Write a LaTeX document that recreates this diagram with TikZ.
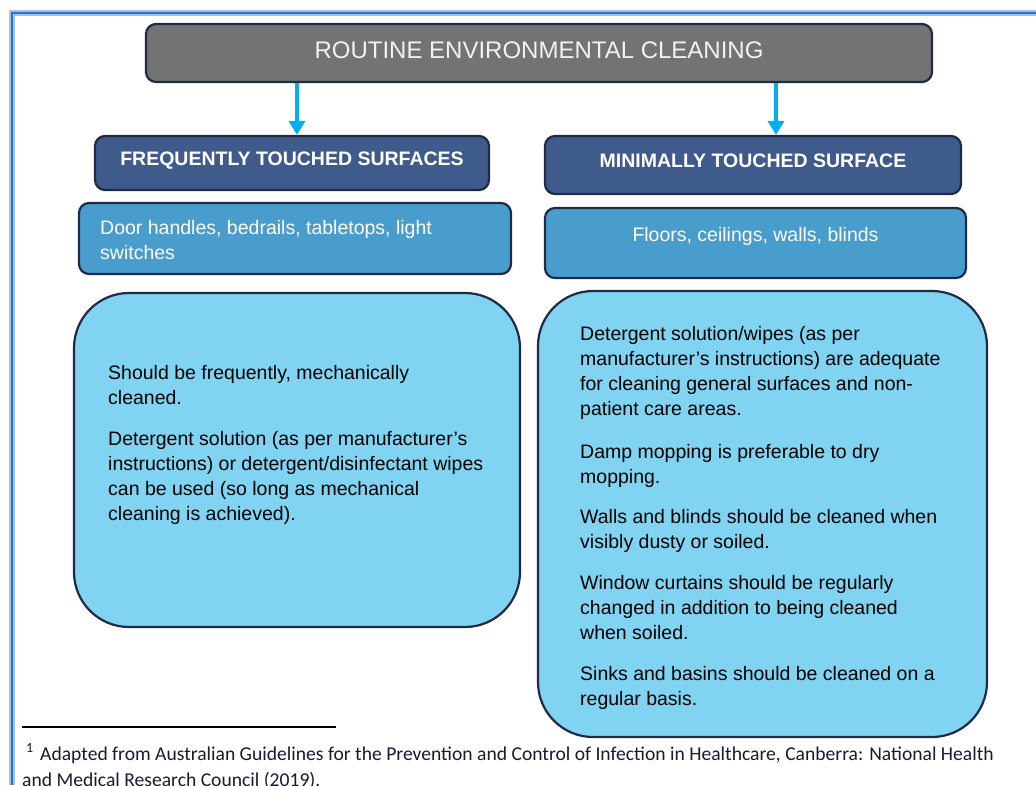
\documentclass[tikz,border=0pt]{standalone}
\usepackage{fontspec}
\setmainfont{Liberation Sans}
\newfontfamily\notefont{Carlito}
\usetikzlibrary{positioning,arrows.meta}

\definecolor{framebl}{HTML}{2E74C5}
\definecolor{framelt}{HTML}{9DC3E6}
\definecolor{navy}{HTML}{1F2B46}
\definecolor{titlegray}{HTML}{737373}
\definecolor{titletext}{HTML}{F2F2F2}
\definecolor{headblue}{HTML}{3F5B8C}
\definecolor{subblue}{HTML}{489DCD}
\definecolor{paleblue}{HTML}{80D4F1}
\definecolor{arrowcyan}{HTML}{00AFEF}
\definecolor{notetext}{HTML}{1A1A33}

\begin{document}
\begin{tikzpicture}[x=1pt,y=-1pt,
  box/.style={draw=navy,line width=2.2pt,rounded corners=10pt,inner sep=0pt},
  head/.style={box,fill=headblue,text=white,font=\bfseries\fontsize{19.5}{25}\selectfont,text depth=8pt},
  body/.style={font=\fontsize{19.5}{25}\selectfont,align=left,inner sep=0pt,anchor=north west},
  note/.style={font=\notefont\fontsize{19.6}{26}\selectfont,text=notetext,inner sep=0pt,anchor=base west},
  arr/.style={-{Triangle[length=14pt,width=16pt]},line width=3.5pt,draw=arrowcyan}]

\useasboundingbox (0,0) rectangle (1036,785);
\fill[white] (0,0) rectangle (1036,785);

% Draw the frame
\draw[line width=6pt,framelt] (12,785) -- (12,13) -- (1036,13);
\draw[line width=2.5pt,framebl] (12,785) -- (12,13) -- (1036,13);

% Title box
\node[box,fill=titlegray,minimum width=786pt,minimum height=58pt,text=titletext,
  font=\fontsize{24}{28}\selectfont,text depth=6pt] (title) at (539,53) {ROUTINE ENVIRONMENTAL CLEANING};

% Heading boxes
\node[head,minimum width=394pt,minimum height=54pt] (freq) at (292,163) {FREQUENTLY TOUCHED SURFACES};
\node[head,minimum width=416pt,minimum height=58pt] (mini) at (753,165) {MINIMALLY TOUCHED SURFACE};

% Draw the arrows
\coordinate (freqtip) at ([xshift=5pt]freq.north);
\coordinate (minitip) at ([xshift=23pt]mini.north);
\draw[arr] (title.south -| freqtip) -- (freqtip);
\draw[arr] (title.south -| minitip) -- (minitip);

% Surface boxes
\node[box,fill=subblue,minimum width=432pt,minimum height=71pt] (freqsurf) at (295,238.5) {};
\node[box,fill=subblue,minimum width=421pt,minimum height=70pt] (minisurf) at (755.5,243) {};
\node[body,text=white] (freqsurftxt) at (100,220) {Door handles, bedrails, tabletops, light\\switches};
\node[body,text=white,anchor=base] (minisurftxt) at (755.5,241) {Floors, ceilings, walls, blinds};

% Big boxes
\node[box,fill=paleblue,rounded corners=55pt,minimum width=446pt,minimum height=334pt] (freqcare) at (297,460) {};
\node[box,fill=paleblue,rounded corners=55pt,minimum width=449pt,minimum height=446pt] (minicare) at (762.5,514) {};

\node[body] (freqcaretxt) at (108,365) {Should be frequently, mechanically\\cleaned.\\[16pt]
  Detergent solution (as per manufacturer’s\\instructions) or detergent/disinfectant wipes\\
  can be used (so long as mechanical\\cleaning is achieved).};
\node[body] (minicaretxt) at (580,326) {Detergent solution/wipes (as per\\manufacturer’s instructions) are adequate\\
  for cleaning general surfaces and non-\\patient care areas.\\[18pt]
  Damp mopping is preferable to dry\\mopping.\\[15pt]
  Walls and blinds should be cleaned when\\visibly dusty or soiled.\\[16pt]
  Window curtains should be regularly\\changed in addition to being cleaned\\when soiled.\\[16pt]
  Sinks and basins should be cleaned on a\\regular basis.};

% Footnote
\draw[line width=1.5pt] (22,727) -- (336,727);
\node[note,font=\notefont\fontsize{14}{16}\selectfont] (fnmark) at (26,752) {1};
\node[note] (fnline1) at (40,760) {Adapted from Australian Guidelines for the Prevention and Control of Infection in Healthcare, Canberra: National Health};
\node[note] (fnline2) at (22,786) {and Medical Research Council (2019).};

\end{tikzpicture}
\end{document}
